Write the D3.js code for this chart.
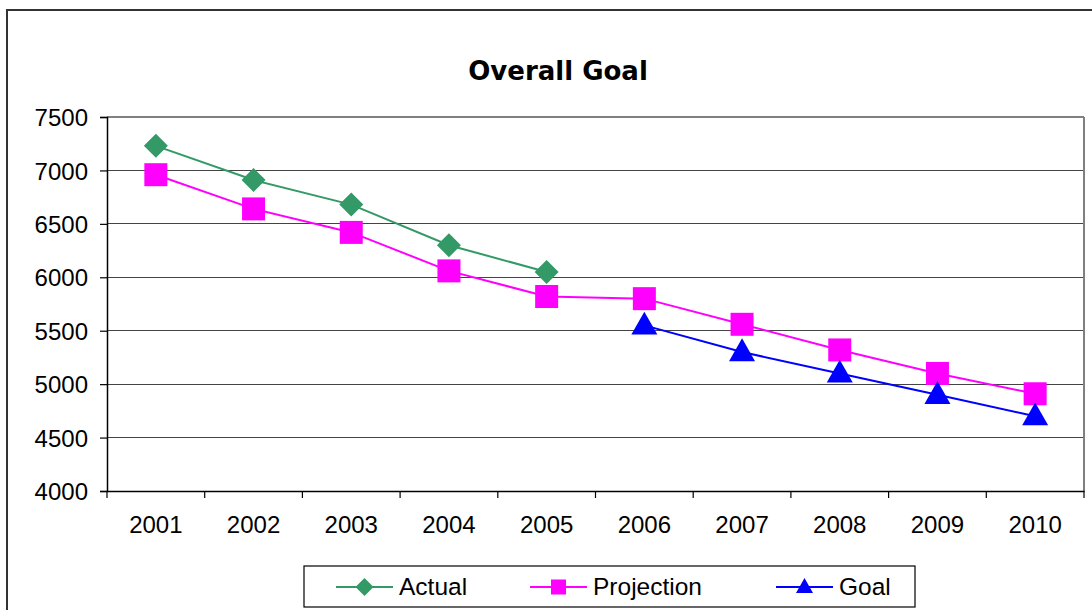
<!DOCTYPE html>
<html><head><meta charset="utf-8">
<script src="https://cdn.jsdelivr.net/npm/d3@7"></script>
<style>html,body{margin:0;padding:0;background:#fff;overflow:hidden}</style>
</head><body>
<svg id="c" width="1092" height="610"></svg>
<script>
const years = ["2001","2002","2003","2004","2005","2006","2007","2008","2009","2010"];
const actual = [7230, 6910, 6680, 6300, 6050, null, null, null, null, null];
const projection = [6960, 6640, 6420, 6060, 5820, 5800, 5560, 5320, 5100, 4910];
const goal = [null, null, null, null, null, 5550, 5300, 5100, 4900, 4700];
const yTicks = [4000, 4500, 5000, 5500, 6000, 6500, 7000, 7500];
const seriesNames = ["Actual", "Projection", "Goal"];

const svg = d3.select("#c");
const L = 107, R = 1084, T = 117, B = 491;
const x = d3.scaleBand().domain(years).range([L, R]);
const y = d3.scaleLinear().domain([4000, 7500]).range([B, T]);
const font = "'Liberation Sans', Arial, sans-serif";
const titleFont = "'DejaVu Sans', Verdana, sans-serif";

// outer border
svg.append("rect").attr("x", 7).attr("y", 10).attr("width", 1200).attr("height", 800)
  .attr("fill", "none").attr("stroke", "#333").attr("stroke-width", 2);

// title
svg.append("text").attr("x", 558).attr("y", 80).attr("text-anchor", "middle")
  .attr("font-family", titleFont).attr("font-weight", "bold").attr("font-size", 26)
  .attr("fill", "#000").text("Overall Goal");

// gridlines
svg.append("g").selectAll("line").data(yTicks.filter(d => d > 4000)).join("line")
  .attr("x1", L).attr("x2", R).attr("y1", d => y(d)).attr("y2", d => y(d))
  .attr("stroke", d => d === 7500 ? "#808080" : "#444").attr("stroke-width", d => d === 7500 ? 2 : 1)
  .attr("shape-rendering", "crispEdges");
// right border of plot
svg.append("line").attr("x1", R).attr("x2", R).attr("y1", T).attr("y2", B)
  .attr("stroke", "#808080").attr("stroke-width", 2).attr("shape-rendering", "crispEdges");

// y axis
const yAxis = d3.axisLeft(y).tickValues(yTicks).tickSize(7).tickPadding(12).tickFormat(d3.format("d"));
const gy = svg.append("g").attr("transform", `translate(${L},0)`).call(yAxis);
gy.select(".domain").attr("stroke", "#000").attr("stroke-width", 1.5);
gy.selectAll(".tick line").attr("stroke", "#000").attr("stroke-width", 1.2);
gy.selectAll("text").attr("font-family", font).attr("font-size", 24).attr("dy", "0.36em").attr("fill", "#000");

// x axis
const xAxis = d3.axisBottom(x).tickSize(0).tickPadding(25);
const gx = svg.append("g").attr("transform", `translate(0,${B})`).call(xAxis);
gx.select(".domain").attr("stroke", "#000").attr("stroke-width", 1.5);
gx.selectAll("text").attr("font-family", font).attr("font-size", 24).attr("fill", "#000");
// category boundary ticks
gx.selectAll(".bt").data(years.concat(["end"])).join("line").attr("class", "bt")
  .attr("x1", (d, i) => i < years.length ? x(d) : R)
  .attr("x2", (d, i) => i < years.length ? x(d) : R)
  .attr("y1", 0).attr("y2", 7).attr("stroke", "#000").attr("stroke-width", 1.2);

const cx = d => x(d) + x.bandwidth() / 2;

function drawSeries(vals, color, sym, size) {
  const pts = years.map((yr, i) => ({yr, v: vals[i]})).filter(p => p.v != null);
  svg.append("path").datum(pts)
    .attr("d", d3.line().x(p => cx(p.yr)).y(p => y(p.v)))
    .attr("fill", "none").attr("stroke", color).attr("stroke-width", 2);
  svg.append("g").selectAll("path").data(pts).join("path")
    .attr("transform", p => `translate(${cx(p.yr)},${y(p.v)})`)
    .attr("d", d3.symbol().type(sym).size(size))
    .attr("fill", color);
}
const diamond = {draw(ctx, s) { const r = Math.sqrt(s) / 2; ctx.moveTo(0, -r); ctx.lineTo(r, 0); ctx.lineTo(0, r); ctx.lineTo(-r, 0); ctx.closePath(); }};
const tri = {draw(ctx, s) { const w = Math.sqrt(s); const h = w * 0.88; ctx.moveTo(0, -h * 0.6); ctx.lineTo(w / 2, h * 0.4); ctx.lineTo(-w / 2, h * 0.4); ctx.closePath(); }};

drawSeries(actual, "#339966", diamond, 24 * 24);
drawSeries(projection, "#FF00FF", d3.symbolSquare, 23 * 23);
drawSeries(goal, "#0000FF", tri, 26 * 26);

// legend
const lg = svg.append("g");
lg.append("rect").attr("x", 304).attr("y", 566).attr("width", 611).attr("height", 41)
  .attr("fill", "#fff").attr("stroke", "#000").attr("stroke-width", 1.2);
const legendItems = [
  {name: seriesNames[0], color: "#339966", sym: diamond, size: 18 * 18, x0: 336},
  {name: seriesNames[1], color: "#FF00FF", sym: d3.symbolSquare, size: 15 * 15, x0: 530},
  {name: seriesNames[2], color: "#0000FF", sym: tri, size: 17 * 17, x0: 776}
];
const ly = 587;
legendItems.forEach(it => {
  lg.append("line").attr("x1", it.x0).attr("x2", it.x0 + 57).attr("y1", ly).attr("y2", ly)
    .attr("stroke", it.color).attr("stroke-width", 2);
  lg.append("path").attr("transform", `translate(${it.x0 + 28.5},${ly})`)
    .attr("d", d3.symbol().type(it.sym).size(it.size)).attr("fill", it.color);
  lg.append("text").attr("x", it.x0 + 63).attr("y", 595).attr("font-family", font)
    .attr("font-size", 24.5).attr("fill", "#000").text(it.name);
});
</script>
</body></html>
